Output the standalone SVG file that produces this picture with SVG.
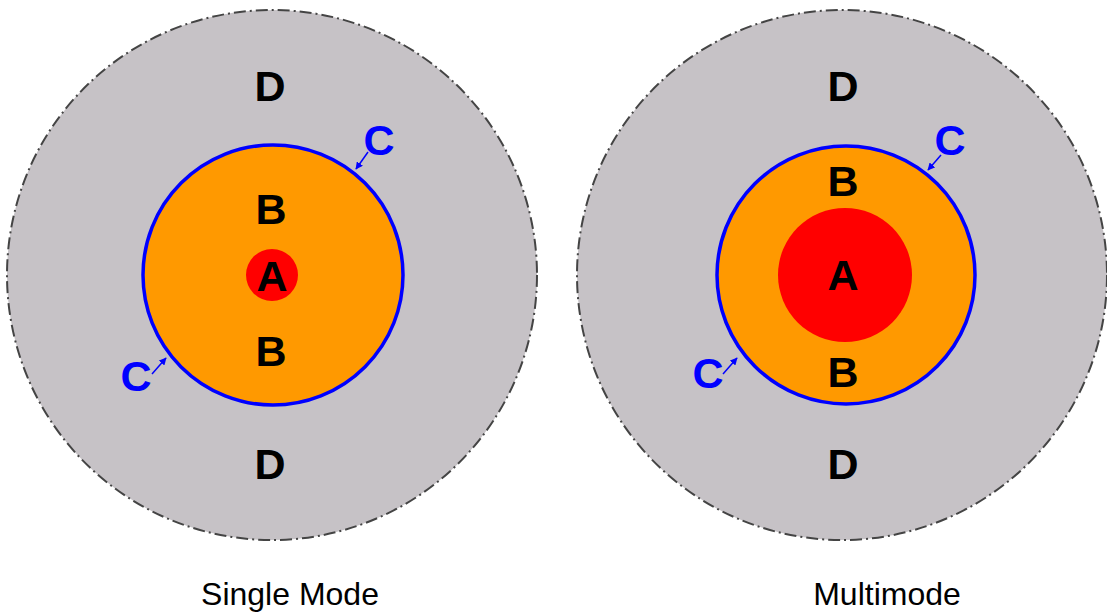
<svg xmlns="http://www.w3.org/2000/svg" width="1107" height="614" viewBox="0 0 1107 614">
<defs>
<style>
.outer{fill:#c6c2c6;stroke:#444;stroke-width:2;stroke-dasharray:12 4 2 4}
.clad{fill:#ff9900;stroke:#0000ff;stroke-width:3.5}
.core{fill:#ff0000}
.lbl{font-family:"Liberation Sans",Arial,sans-serif;font-weight:bold;font-size:43px;fill:#000;text-anchor:middle}
.c{font-family:"Liberation Sans",Arial,sans-serif;font-weight:bold;font-size:43px;fill:#0000ff;text-anchor:middle}
.cap{font-family:"Liberation Sans",Arial,sans-serif;font-size:32px;fill:#000;text-anchor:middle}
.arr{stroke:#0000ff;stroke-width:1.5;fill:none;marker-end:url(#ah)}
</style>
<marker id="ah" viewBox="0 0 10 10" refX="9" refY="5" markerWidth="5" markerHeight="5" orient="auto"><path d="M0,0 L10,5 L0,10 z" fill="#0000ff"/></marker>
</defs>
<rect width="1107" height="614" fill="#fff"/>
<g id="single-mode">
<circle class="outer" cx="272" cy="275" r="265"/>
<circle class="clad" cx="273" cy="275" r="130"/>
<circle class="core" cx="272" cy="275" r="26"/>
<text class="lbl" x="270" y="101">D</text>
<text class="lbl" x="271" y="224">B</text>
<text class="lbl" x="272" y="291">A</text>
<text class="lbl" x="271" y="366">B</text>
<text class="lbl" x="270" y="479">D</text>
<text class="c" x="379" y="155">C</text>
<text class="c" x="136" y="391">C</text>
<text class="cap" x="290" y="605">Single Mode</text>
</g>
<g id="multimode">
<circle class="outer" cx="842" cy="275" r="265"/>
<circle class="clad" cx="846" cy="275" r="129"/>
<circle class="core" cx="845" cy="275" r="67"/>
<text class="lbl" x="843" y="101">D</text>
<text class="lbl" x="843" y="196">B</text>
<text class="lbl" x="843" y="290">A</text>
<text class="lbl" x="843" y="387">B</text>
<text class="lbl" x="843" y="479">D</text>
<text class="c" x="950" y="155">C</text>
<text class="c" x="708" y="388">C</text>
<text class="cap" x="887" y="605">Multimode</text>
</g>
<g id="connectors">
<line class="arr" x1="368" y1="152" x2="356" y2="169"/>
<line class="arr" x1="152" y1="374" x2="166" y2="358"/>
<line class="arr" x1="941" y1="155" x2="928" y2="170"/>
<line class="arr" x1="723" y1="374" x2="737" y2="358"/>
</g>
</svg>
